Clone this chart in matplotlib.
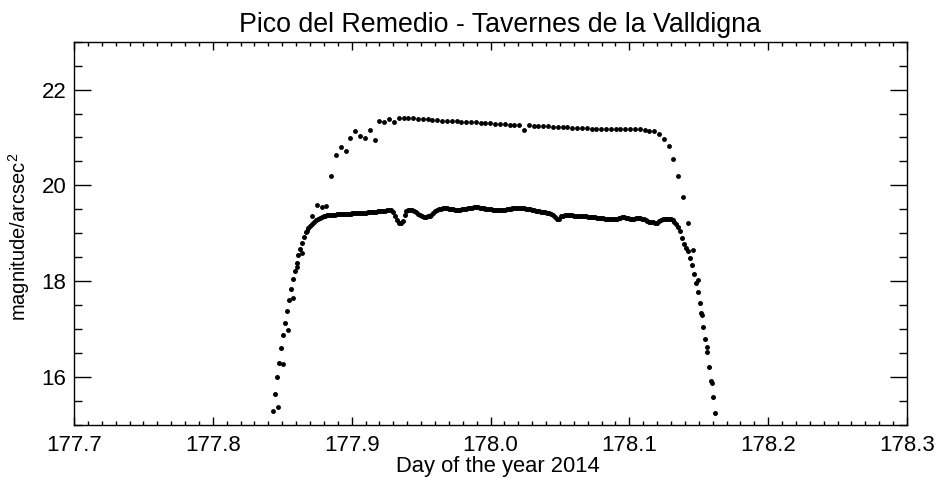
import numpy as np
import matplotlib
matplotlib.use("Agg")
import matplotlib.pyplot as plt
from matplotlib.ticker import MultipleLocator, FormatStrFormatter

plt.rcParams['font.family'] = ['Liberation Sans', 'DejaVu Sans']
plt.rcParams['mathtext.fontset'] = 'custom'
plt.rcParams['mathtext.rm'] = 'Liberation Sans'
plt.rcParams['mathtext.it'] = 'Liberation Sans'

TITLE = "Pico del Remedio - Tavernes de la Valldigna"
XLABEL = "Day of the year 2014"
YLABEL = "magnitude/arcsec$^{2}$"

# Sampling of the two series (day of year 2014)
upper_start = 177.8436
upper_step = 5.0 / 1440.0   # 5-minute cadence
lower_start = 177.8450
lower_step = 2.0 / 1440.0   # 2-minute cadence

upper_mag = [
    15.28, 15.37, 16.26, 16.98, 17.64, 18.30, 18.58, 19.05, 19.36, 19.59,
    19.55, 19.57, 20.20, 20.64, 20.81, 20.72, 20.99, 21.13, 21.03, 20.99,
    21.15, 20.95, 21.34, 21.33, 21.38, 21.33, 21.41, 21.41, 21.40, 21.40,
    21.39, 21.39, 21.38, 21.37, 21.36, 21.35, 21.35, 21.34, 21.34, 21.33,
    21.33, 21.33, 21.32, 21.31, 21.31, 21.30, 21.29, 21.29, 21.28, 21.27,
    21.27, 21.26, 21.15, 21.26, 21.25, 21.24, 21.23, 21.23, 21.22, 21.21,
    21.21, 21.21, 21.20, 21.19, 21.19, 21.19, 21.18, 21.18, 21.18, 21.17,
    21.17, 21.17, 21.17, 21.18, 21.18, 21.17, 21.17, 21.16, 21.14, 21.14,
    21.07, 20.97, 20.82, 20.56, 20.20, 19.75, 19.22, 18.65, 18.02, 17.29,
    16.63, 15.87,
]

lower_mag = [
    15.64, 15.99, 16.29, 16.59, 16.88, 17.12, 17.37, 17.60, 17.84, 18.04,
    18.21, 18.38, 18.54, 18.67, 18.79, 18.92, 19.02, 19.11, 19.15, 19.20,
    19.24, 19.28, 19.30, 19.32, 19.34, 19.35, 19.36, 19.37, 19.37, 19.38,
    19.38, 19.38, 19.39, 19.39, 19.40, 19.40, 19.40, 19.41, 19.41, 19.41,
    19.42, 19.42, 19.42, 19.42, 19.42, 19.43, 19.43, 19.43, 19.44, 19.44,
    19.44, 19.45, 19.45, 19.46, 19.46, 19.46, 19.47, 19.47, 19.48, 19.48,
    19.48, 19.44, 19.35, 19.28, 19.22, 19.22, 19.26, 19.38, 19.46, 19.49,
    19.48, 19.48, 19.46, 19.44, 19.41, 19.37, 19.35, 19.34, 19.34, 19.35,
    19.36, 19.38, 19.42, 19.46, 19.49, 19.50, 19.51, 19.52, 19.52, 19.52,
    19.51, 19.50, 19.50, 19.49, 19.49, 19.49, 19.49, 19.50, 19.51, 19.51,
    19.52, 19.53, 19.53, 19.54, 19.54, 19.54, 19.53, 19.53, 19.52, 19.51,
    19.51, 19.50, 19.50, 19.49, 19.49, 19.49, 19.49, 19.49, 19.49, 19.49,
    19.50, 19.51, 19.51, 19.52, 19.52, 19.53, 19.53, 19.53, 19.53, 19.52,
    19.51, 19.50, 19.50, 19.49, 19.48, 19.47, 19.47, 19.46, 19.45, 19.45,
    19.44, 19.43, 19.42, 19.40, 19.37, 19.34, 19.30, 19.30, 19.35, 19.36,
    19.37, 19.37, 19.37, 19.37, 19.37, 19.36, 19.36, 19.36, 19.36, 19.35,
    19.35, 19.35, 19.34, 19.34, 19.33, 19.33, 19.33, 19.32, 19.32, 19.31,
    19.31, 19.30, 19.30, 19.30, 19.30, 19.30, 19.30, 19.30, 19.31, 19.32,
    19.33, 19.33, 19.32, 19.31, 19.30, 19.30, 19.30, 19.31, 19.31, 19.31,
    19.30, 19.29, 19.27, 19.25, 19.24, 19.23, 19.23, 19.22, 19.22, 19.25,
    19.28, 19.30, 19.30, 19.30, 19.30, 19.29, 19.27, 19.24, 19.19, 19.13,
    19.05, 18.90, 18.78, 18.69, 18.62, 18.49, 18.34, 18.15, 17.96, 17.76,
    17.55, 17.33, 17.04, 16.79, 16.51, 16.21, 15.91, 15.57, 15.23,
]

upper_day = upper_start + upper_step * np.arange(len(upper_mag))
lower_day = lower_start + lower_step * np.arange(len(lower_mag))

W, H = 937, 482
fig = plt.figure(figsize=(W / 100, H / 100), dpi=100)
ax = fig.add_axes([74 / W, (H - 424.5) / H, 833 / W, (424.5 - 41.8) / H])

ax.plot(upper_day, upper_mag, 'o', color='black', ms=3.5, mew=0)
ax.plot(lower_day, lower_mag, 'o', color='black', ms=3.6, mew=0)

ax.set_xlim(177.7, 178.3)
ax.set_ylim(15, 23)
ax.xaxis.set_major_locator(MultipleLocator(0.1))
ax.xaxis.set_minor_locator(MultipleLocator(0.01))
ax.xaxis.set_major_formatter(FormatStrFormatter('%.1f'))
ax.yaxis.set_major_locator(MultipleLocator(2))
ax.yaxis.set_minor_locator(MultipleLocator(0.5))

ax.tick_params(which='both', direction='in', top=True, right=True,
               width=1.0, labelsize=16, colors='black')
ax.tick_params(axis='x', which='major', length=5.5, pad=7.5)
ax.tick_params(axis='x', which='minor', length=2.8)
ax.tick_params(axis='y', which='major', length=12, pad=5.5)
ax.tick_params(axis='y', which='minor', length=6)
for s in ax.spines.values():
    s.set_linewidth(1.0)

ax.set_ylabel(YLABEL, fontsize=14.5)
ax.yaxis.set_label_coords(-0.050, 0.49)

fig.text(499.5 / W, 1 - 32 / H, TITLE, ha='center', va='baseline', fontsize=19.3)
fig.text(498 / W, 1 - 472 / H, XLABEL, ha='center', va='baseline', fontsize=15.8)

fig.savefig('out.png', dpi=100)
